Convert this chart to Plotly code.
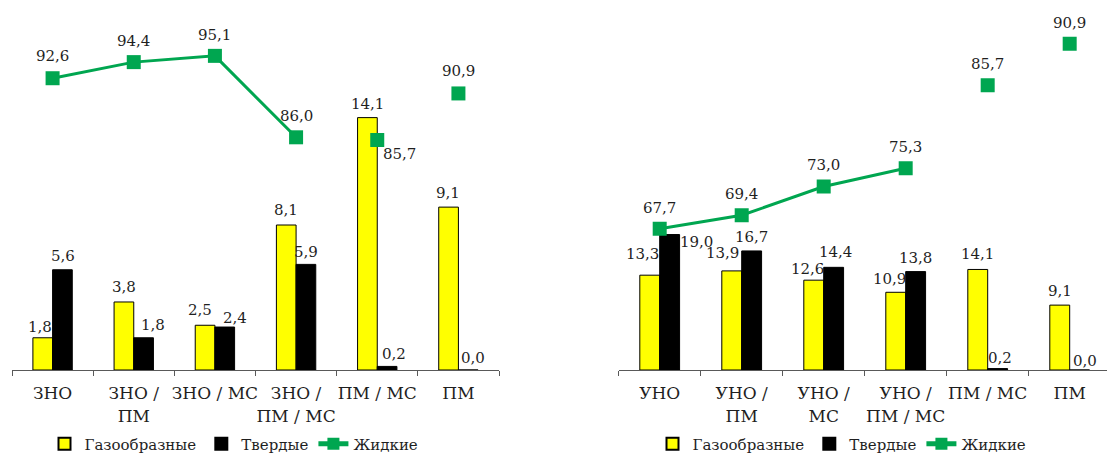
import plotly.graph_objects as go

# Categories for each panel
cats_left = ["ЗНО", "ЗНО /<br>ПМ", "ЗНО / МС", "ЗНО /<br>ПМ / МС", "ПМ / МС", "ПМ"]
cats_right = ["УНО", "УНО /<br>ПМ", "УНО /<br>МС", "УНО /<br>ПМ / МС", "ПМ / МС", "ПМ"]

# Values, %
gas_left = [1.8, 3.8, 2.5, 8.1, 14.1, 9.1]
solid_left = [5.6, 1.8, 2.4, 5.9, 0.2, 0.0]
liquid_left = [92.6, 94.4, 95.1, 86.0, 85.7, 90.9]

gas_right = [13.3, 13.9, 12.6, 10.9, 14.1, 9.1]
solid_right = [19.0, 16.7, 14.4, 13.8, 0.2, 0.0]
liquid_right = [67.7, 69.4, 73.0, 75.3, 85.7, 90.9]

SERIES = ["Газообразные", "Твердые", "Жидкие"]

W, H = 1107, 454
FONT = "DejaVu Serif"
TXT = "#1f1f1f"
YELLOW = "#FFFF00"
BLACK = "#000000"
GREEN = "#00A650"
N_LINKED = 4  # first four points are joined by the line

# label offsets in pixels (dx, dy-up) relative to the top centre of each mark
off_gas_left = [(-3, 11), (0, 15), (-5, 15), (0, 15), (0, 14), (0, 14)]
off_solid_left = [(0, 14), (9, 13), (10, 9), (0, 12), (7, 12), (5, 12)]
off_liq_left = [(0, 22), (0, 21), (0, 21), (0, 21), (22, -14), (0, 22)]
off_gas_right = [(-7, 21), (-9, 18), (-6, 11), (-6, 13), (0, 15), (0, 14)]
off_solid_right = [(27, -7), (0, 14), (2, 15), (0, 14), (3, 11), (6, 9)]
off_liq_right = [(0, 21), (0, 21), (0, 22), (0, 21), (0, 21), (0, 21)]


def fmt(v):
    return f"{v:.1f}".replace(".", ",")


fig = go.Figure()
annotations = []


def add_panel(cats, gas, solid, liquid, xref, yref, yref2, legend, bar_half,
              offs_g, offs_s, offs_l):
    fig.add_trace(go.Bar(
        x=cats, y=gas, name=SERIES[0], marker=dict(color=YELLOW, line=dict(color=BLACK, width=1)),
        xaxis=xref, yaxis=yref, legend=legend, hoverinfo="x+y"))
    fig.add_trace(go.Bar(
        x=cats, y=solid, name=SERIES[1], marker=dict(color=BLACK, line=dict(color=BLACK, width=1)),
        xaxis=xref, yaxis=yref, legend=legend, hoverinfo="x+y"))
    fig.add_trace(go.Scatter(
        x=cats[:N_LINKED], y=liquid[:N_LINKED], name=SERIES[2], mode="lines+markers",
        line=dict(color=GREEN, width=3), marker=dict(symbol="square", size=14, color=GREEN),
        xaxis=xref, yaxis=yref2, legend=legend))
    fig.add_trace(go.Scatter(
        x=cats[N_LINKED:], y=liquid[N_LINKED:], name=SERIES[2], mode="markers",
        marker=dict(symbol="square", size=14, color=GREEN), showlegend=False,
        xaxis=xref, yaxis=yref2, legend=legend))

    for c, v, (dx, dy) in zip(cats, gas, offs_g):
        annotations.append(dict(x=c, y=v, xref=xref, yref=yref, text=fmt(v), showarrow=False,
                                xshift=-bar_half + dx, yshift=dy))
    for c, v, (dx, dy) in zip(cats, solid, offs_s):
        annotations.append(dict(x=c, y=v, xref=xref, yref=yref, text=fmt(v), showarrow=False,
                                xshift=bar_half + dx, yshift=dy))
    for c, v, (dx, dy) in zip(cats, liquid, offs_l):
        annotations.append(dict(x=c, y=v, xref=xref, yref=yref2, text=fmt(v), showarrow=False,
                                xshift=dx, yshift=dy))


add_panel(cats_left, gas_left, solid_left, liquid_left, "x", "y", "y2",
          "legend", 10, off_gas_left, off_solid_left, off_liq_left)
add_panel(cats_right, gas_right, solid_right, liquid_right, "x2", "y3", "y4",
          "legend2", 9.8, off_gas_right, off_solid_right, off_liq_right)

xaxis_common = dict(
    type="category", showline=True, linecolor="#595959", linewidth=1,
    ticks="outside", tickson="boundaries", ticklen=5, tickcolor="#595959",
    tickangle=0, automargin=False, ticklabelstandoff=8,
    tickfont=dict(family=FONT, size=17, color=TXT), showgrid=False, zeroline=False,
    fixedrange=True,
)
hidden_y = dict(visible=False, showgrid=False, zeroline=False, fixedrange=True)

legend_common = dict(
    orientation="h", yanchor="middle", xanchor="center", yref="container",
    y=(H - 444) / H,
    font=dict(family=FONT, size=15, color=TXT), bgcolor="rgba(0,0,0,0)",
    itemsizing="constant", traceorder="normal",
)

fig.update_layout(
    width=W, height=H,
    margin=dict(l=0, r=0, t=12, b=84, autoexpand=False),
    paper_bgcolor="white", plot_bgcolor="white",
    barmode="group", bargap=0.515, bargroupgap=0,
    font=dict(family=FONT, size=15, color=TXT),
    xaxis=dict(domain=[12 / W, 499 / W], anchor="y", range=[-0.5, 5.5], **xaxis_common),
    yaxis=dict(domain=[0, 1], anchor="x", range=[0, 20], **hidden_y),
    yaxis2=dict(overlaying="y", anchor="x", range=[60, 100], **hidden_y),
    xaxis2=dict(domain=[618.7 / W, 1], anchor="y3", range=[-0.5, 5.455], **xaxis_common),
    yaxis3=dict(domain=[0, 0.9958], anchor="x2", range=[0, 50], **hidden_y),
    yaxis4=dict(overlaying="y3", anchor="x2", range=[50, 94.7], **hidden_y),
    legend=dict(x=234 / W, **legend_common),
    legend2=dict(x=842 / W, **legend_common),
    annotations=annotations,
    showlegend=True,
)

fig.write_html("out.html")
